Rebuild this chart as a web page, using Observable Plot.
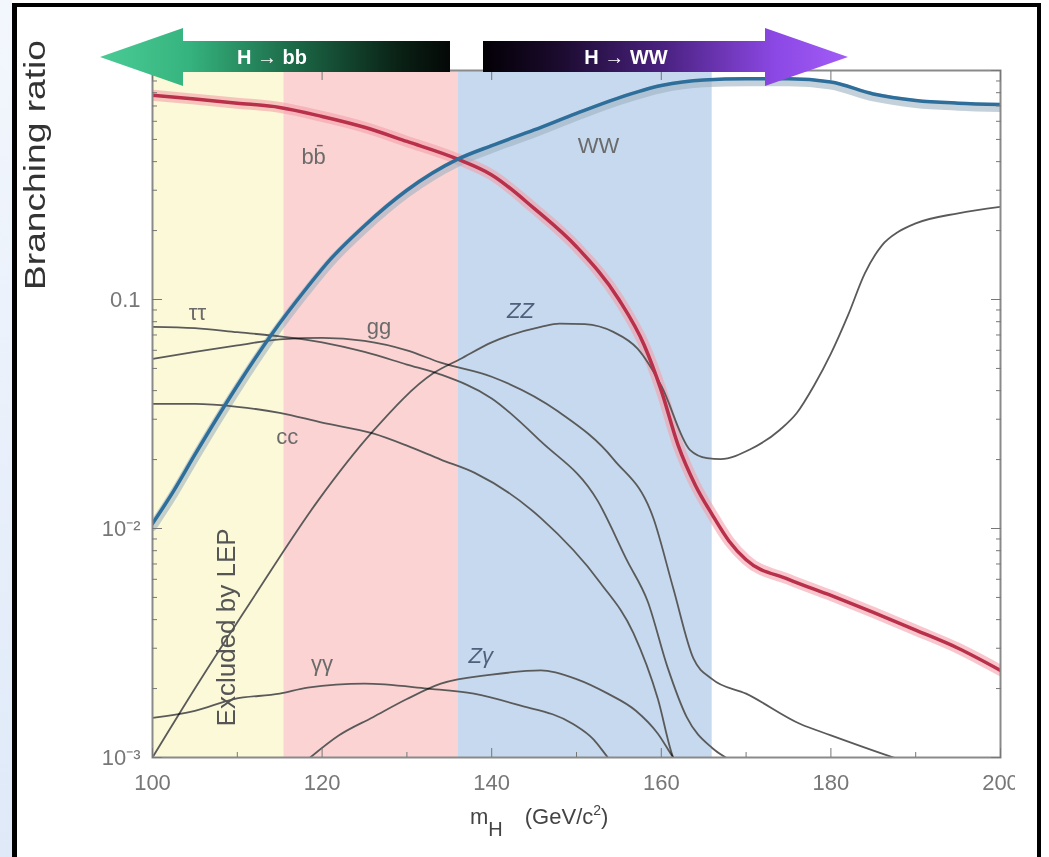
<!DOCTYPE html>
<html><head><meta charset="utf-8">
<script src="https://cdn.jsdelivr.net/npm/d3@7"></script>
<script src="https://cdn.jsdelivr.net/npm/@observablehq/plot@0.6"></script>
<style>
html,body{margin:0;padding:0;background:#fff}
body{width:1049px;height:857px;overflow:hidden;position:relative;font-family:"Liberation Sans",Arial,sans-serif}
#strip{position:absolute;left:0;top:0;width:12px;height:857px;background:linear-gradient(180deg,#f3f7fd,#dfe9f8)}
#frame{position:absolute;left:12px;top:3px;width:1020px;height:870px;border-left:5px solid #000;border-top:4px solid #000;border-right:4px solid #000;box-sizing:content-box}
#chart{position:absolute;left:0;top:0}
#over{position:absolute;left:0;top:0}
#cut{position:absolute;left:1015px;top:8px;width:21px;height:849px;background:#fff}
</style>
</head><body>
<div id="strip"></div>
<div id="frame"></div>
<div id="chart"></div>
<div id="cut"></div>
<svg id="over" width="1049" height="857"></svg>
<script>
// ---- data ----
const bandName  = ["Excluded by LEP", "H → bb dominant", "H → WW dominant"];
const bandStart = [100, 115.5, 136];
const bandEnd   = [115.5, 136, 166];

const massBB = [100,105,110,115,120,125,130,136,140,145,150,155,158,160,162,164,166,168,170,175,180,185,190,195,200];
const brBB   = [0.78,0.75,0.72,0.69,0.63,0.565,0.49,0.41,0.35,0.25,0.17,0.10,0.063,0.040,0.023,0.0155,0.0115,0.0088,0.0073,0.006,0.0051,0.0043,0.0036,0.003,0.0024];

const massWW = [100,102.5,105,110,114,118,121,125,130,136,140,145,150,155,160,165,170,175,180,185,190,195,200];
const brWW   = [0.0105,0.0146,0.021,0.042,0.070,0.11,0.15,0.21,0.30,0.41,0.47,0.55,0.65,0.76,0.86,0.91,0.92,0.92,0.89,0.79,0.74,0.72,0.71];

const massTT = [100,105,110,115,120,125,130,134,140,145.8,152.5,156,158.4,160.7,163,166,168];
const brTT   = [0.076,0.075,0.072,0.069,0.065,0.059,0.052,0.047,0.037,0.024,0.0132,0.0072,0.0048,0.0025,0.0015,0.0011,0.00098];

const massGG = [100,105,110,115,120,125,130,134,140,147.8,154.4,159.1,161.4,163.8,166,170,176.4,180,187.4,190];
const brGG   = [0.055,0.059,0.063,0.067,0.068,0.066,0.060,0.053,0.046,0.0325,0.020,0.011,0.0055,0.0027,0.0022,0.0019,0.0014,0.00125,0.001,0.00093];

const massCC = [100,105,110,115,120,126,130,134,138,145.8,152.8,156.7,159.6,161.4,162];
const brCC   = [0.035,0.035,0.034,0.032,0.029,0.026,0.023,0.020,0.0175,0.0111,0.0058,0.0035,0.0018,0.001,0.0009];

const massZZ = [100,105,111.6,119.5,126,133.1,136.3,140,145.8,148,151,154.4,157.2,160,163.4,165.4,167,170.5,174,176,178,180,182,184,186,188,190,195,200];
const brZZ   = [0.001,0.002,0.0048,0.0132,0.0266,0.0476,0.055,0.065,0.076,0.0785,0.078,0.072,0.061,0.042,0.022,0.0203,0.0201,0.0222,0.027,0.032,0.042,0.058,0.085,0.13,0.172,0.198,0.215,0.238,0.254];

const massAA = [100,105,109.6,115,118.3,125,132.4,137.9,143,149.6,152,153.7,154.5];
const brAA   = [0.00149,0.0016,0.0018,0.0019,0.00202,0.0021,0.002,0.0019,0.0017,0.0014,0.0012,0.001,0.00092];

const massZA = [118.6,122,126,130,134,140,145.8,150,153.7,157,159.6,161.4,162];
const brZA   = [0.001,0.00125,0.0015,0.0018,0.0021,0.0023,0.0024,0.0022,0.0019,0.0016,0.00127,0.001,0.00093];

const labelText = ["bb̄","WW","ττ","gg","cc","γγ"];
const labelMass = [119,152.6,105.3,126.7,115.9,120];
const labelBR   = [0.42,0.47,0.087,0.076,0.0251,0.00257];
const labelText2 = ["ZZ","Zγ"];
const labelMass2 = [143.4,138.7];
const labelBR2   = [0.089,0.00278];

const xTicks = [100,120,140,160,180,200];
const xMinor = [110,130,150,170,190];
const yTicks = [0.001,0.01,0.1,1];
const yTickLabels = ["10⁻³","10⁻²","0.1",""];
const yMinor = [0.002,0.003,0.004,0.005,0.006,0.007,0.008,0.009,0.02,0.03,0.04,0.05,0.06,0.07,0.08,0.09,0.2,0.3,0.4,0.5,0.6,0.7,0.8,0.9];

// ---- tables ----
const bands = bandName.map((n,i)=>({name:n, a:bandStart[i], b:bandEnd[i]}));
const mk = (s, ms, bs) => ms.map((m,i)=>({s, m, br:bs[i]}));
const bbRows = mk("bb", massBB, brBB);
const wwRows = mk("WW", massWW, brWW);
const thinRows = [].concat(mk("ττ",massTT,brTT), mk("gg",massGG,brGG), mk("cc",massCC,brCC),
  mk("ZZ",massZZ,brZZ), mk("γγ",massAA,brAA), mk("Zγ",massZA,brZA));
const labels = labelText.map((t,i)=>({t, m:labelMass[i], br:labelBR[i]}));
const labels2 = labelText2.map((t,i)=>({t, m:labelMass2[i], br:labelBR2[i]}));
const yFmt = v => yTickLabels[yTicks.indexOf(v)] ?? "";
const C = "monotone-x";

const chart = Plot.plot({
  width:1049, height:857,
  marginLeft:152, marginRight:49, marginTop:70, marginBottom:100,
  style:{background:"transparent", fontFamily:"'Liberation Sans', Arial, sans-serif"},
  x:{domain:[100,200]},
  y:{type:"log", domain:[0.001,1]},
  color:{domain:bandName, range:["#fcf9d8","#fcd3d3","#c6d9ee"]},
  marks:[
    Plot.rect(bands,{x1:"a", x2:"b", fill:"name"}),
    Plot.line(bbRows,{x:"m", y:"br", stroke:"#f4a0aa", strokeWidth:11, strokeOpacity:0.6, curve:C, clip:true}),
    Plot.line(wwRows,{x:"m", y:"br", stroke:"#9fb3c2", strokeWidth:9, strokeOpacity:0.6, dy:3, curve:C, clip:true}),
    Plot.line(thinRows,{x:"m", y:"br", z:"s", stroke:"#5a5a5a", strokeWidth:1.8, curve:C, mixBlendMode:"multiply", clip:true}),
    Plot.line(bbRows,{x:"m", y:"br", stroke:"#b8304a", strokeWidth:3.5, curve:C, clip:true}),
    Plot.line(wwRows,{x:"m", y:"br", stroke:"#2e6e9b", strokeWidth:3.5, curve:C, clip:true}),
    Plot.text(labels,{x:"m", y:"br", text:"t", fontSize:22, fill:"#6b6b6b"}),
    Plot.text(labels2,{x:"m", y:"br", text:"t", fontSize:22, fill:"#4f5f7c", fontStyle:"italic"}),
    Plot.text(["Excluded by LEP"],{x:108.8, y:0.0037, text:d=>d, rotate:-90, fontSize:26, fill:"#555"}),
    Plot.frame({stroke:"#8a8a8a", strokeWidth:2}),
    Plot.axisX({ticks:xTicks, tickSize:-9, tickPadding:26, fontSize:22, color:"#777", label:null}),
    Plot.axisX({ticks:xMinor, tickSize:-5, tickFormat:()=>"", color:"#777", label:null}),
    Plot.axisX({anchor:"top", ticks:xTicks, tickSize:-9, tickFormat:()=>"", color:"#777", label:null}),
    Plot.axisY({ticks:yTicks, tickSize:-10, tickPadding:22, tickFormat:yFmt, fontSize:22, color:"#777", label:null}),
    Plot.axisY({ticks:yMinor, tickSize:-5, tickFormat:()=>"", color:"#777", label:null}),
    Plot.axisY({anchor:"right", ticks:yTicks, tickSize:-10, tickFormat:()=>"", color:"#777", label:null}),
    Plot.axisY({anchor:"right", ticks:yMinor, tickSize:-5, tickFormat:()=>"", color:"#777", label:null})
  ]
});
document.getElementById("chart").appendChild(chart);

// ---- overlay: arrows and titles ----
const over = document.getElementById("over");
over.innerHTML = `
<defs>
 <linearGradient id="gG" x1="0" x2="1" y1="0" y2="0">
  <stop offset="0" stop-color="#4acb95"/><stop offset="0.25" stop-color="#36b47f"/>
  <stop offset="0.55" stop-color="#1c6a48"/><stop offset="0.85" stop-color="#0a2216"/><stop offset="1" stop-color="#040806"/>
 </linearGradient>
 <linearGradient id="gP" x1="0" x2="1" y1="0" y2="0">
  <stop offset="0" stop-color="#030005"/><stop offset="0.2" stop-color="#1a0a2c"/>
  <stop offset="0.5" stop-color="#4b2282"/><stop offset="0.8" stop-color="#8c48e4"/><stop offset="1" stop-color="#a25cf8"/>
 </linearGradient>
</defs>
<polygon points="100,57 183,28 183,41 450,41 450,72 183,72 183,86" fill="url(#gG)"/>
<polygon points="483,41 765,41 765,28 848,57 765,86 765,72 483,72" fill="url(#gP)"/>
<text x="272" y="64" text-anchor="middle" fill="#fff" font-weight="bold" font-size="20" font-family="'Liberation Sans Narrow','Liberation Sans',Arial">H → bb</text>
<text x="626" y="64" text-anchor="middle" fill="#fff" font-weight="bold" font-size="20" font-family="'Liberation Sans Narrow','Liberation Sans',Arial">H → WW</text>
<text transform="translate(45,165) rotate(-90)" text-anchor="middle" fill="#333" font-size="30" textLength="250" lengthAdjust="spacingAndGlyphs">Branching ratio</text>
<text x="470" y="824" fill="#444" font-size="22">m<tspan dy="12" font-size="20">H</tspan><tspan dy="-12" dx="22">(GeV/c</tspan><tspan dy="-9" font-size="14">2</tspan><tspan dy="9">)</tspan></text>
`;
</script>
</body></html>
